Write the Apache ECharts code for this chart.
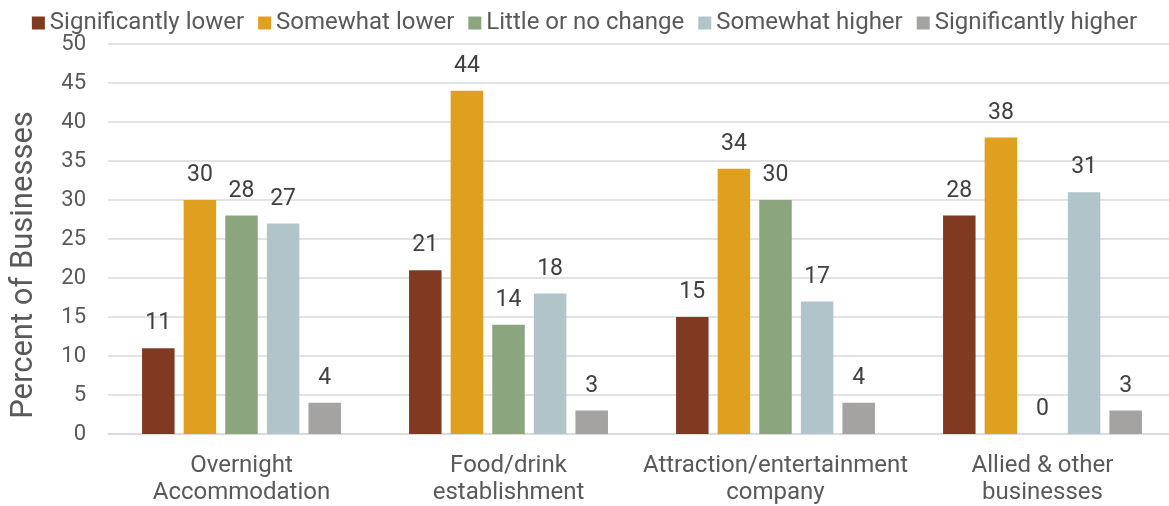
<!DOCTYPE html>
<html><head><meta charset="utf-8">
<script src="https://cdn.jsdelivr.net/npm/echarts@6/dist/echarts.min.js"></script>
<style>html,body{margin:0;padding:0;background:#fff}#c{width:1169px;height:506px}</style>
</head><body><div id="c"></div>
<script>
const categories = ["Overnight\nAccommodation", "Food/drink\nestablishment", "Attraction/entertainment\ncompany", "Allied & other\nbusinesses"];
const seriesNames = ["Significantly lower", "Somewhat lower", "Little or no change", "Somewhat higher", "Significantly higher"];
const sigLower = [11, 21, 15, 28];
const someLower = [30, 44, 34, 38];
const noChange = [28, 14, 30, 0];
const someHigher = [27, 18, 17, 31];
const sigHigher = [4, 3, 4, 3];
const yTicks = { min: 0, max: 50, interval: 5 };
const colors = ["#7f3a21", "#dfa01f", "#8ba57e", "#b0c4ca", "#a5a3a2"];
const values = [sigLower, someLower, noChange, someHigher, sigHigher];
const font = "Roboto";
const chart = echarts.init(document.getElementById('c'));
chart.setOption({
  animation: false,
  textStyle: { fontFamily: font },
  legend: {
    top: 6, left: 'center', itemWidth: 13, itemHeight: 13, itemGap: 14,
    textStyle: { fontSize: 24, color: '#595959', fontFamily: font },
    icon: 'rect',
    data: seriesNames
  },
  grid: { left: 108, width: 1068, top: 44, bottom: 72, containLabel: false, outerBoundsMode: 'none' },
  xAxis: {
    type: 'category', data: categories,
    axisLine: { show: true, lineStyle: { color: '#d9d9d9', width: 1.5 } },
    axisTick: { show: false },
    axisLabel: { fontSize: 24, color: '#595959', lineHeight: 27, margin: 18, interval: 0, fontFamily: font }
  },
  yAxis: {
    type: 'value', min: yTicks.min, max: yTicks.max, interval: yTicks.interval,
    name: 'Percent of Businesses', nameLocation: 'middle', nameGap: 68,
    nameTextStyle: { fontSize: 31, color: '#595959', fontFamily: font, padding: [0, 0, 0, -52] },
    axisLine: { show: false }, axisTick: { show: false },
    axisLabel: { fontSize: 22, color: '#595959', margin: 22, fontFamily: font },
    splitLine: { lineStyle: { color: '#d9d9d9', width: 1.5 } }
  },
  series: seriesNames.map((n, i) => ({
    name: n, type: 'bar', data: values[i], barWidth: 32.5, barGap: '28%',
    itemStyle: { color: colors[i] },
    label: { show: true, position: 'top', distance: 13, fontSize: 23, color: '#404040', fontFamily: font }
  }))
});
</script></body></html>
